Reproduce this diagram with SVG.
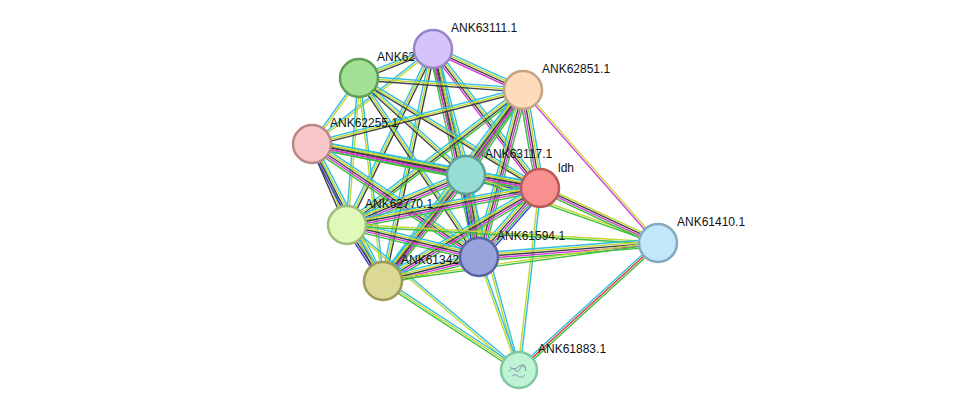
<svg xmlns="http://www.w3.org/2000/svg" width="975" height="416" viewBox="0 0 975 416">
<style>
line{stroke-width:1.4}
.c{stroke:#2fbfe0}.t{stroke:#c2d62f}.k{stroke:#404040}.m{stroke:#d63bd6}.g{stroke:#3cbf3c}.b{stroke:#3a3ae0}.r{stroke:#e03838}
circle{stroke-width:2.5}
text{font-family:"Liberation Sans",Arial,sans-serif;font-size:12px;fill:#111}
</style>
<rect width="975" height="416" fill="#fff"/>
<g id="edges">
<g transform="translate(359 78) rotate(-21.4)"><line x2="79.5" y1="-2" y2="-2" class="c"/><line x2="79.5" class="t"/><line x2="79.5" y1="2" y2="2" class="k"/></g>
<g transform="translate(433 49) rotate(24.5)"><line x2="98.9" y1="-3" y2="-3" class="c"/><line x2="98.9" y1="-1" y2="-1" class="t"/><line x2="98.9" y1="1" y2="1" class="k"/><line x2="98.9" y1="3" y2="3" class="m"/></g>
<g transform="translate(312 144) rotate(-38.1)"><line x2="153.8" y1="-1" y2="-1" class="c"/><line x2="153.8" y1="1" y2="1" class="t"/></g>
<g transform="translate(433 49) rotate(75.3)"><line x2="130.2" y1="-4" y2="-4" class="c"/><line x2="130.2" y1="-2" y2="-2" class="t"/><line x2="130.2" class="k"/><line x2="130.2" y1="2" y2="2" class="m"/><line x2="130.2" y1="4" y2="4" class="g"/></g>
<g transform="translate(433 49) rotate(52.4)"><line x2="175.4" y1="-3" y2="-3" class="c"/><line x2="175.4" y1="-1" y2="-1" class="t"/><line x2="175.4" y1="1" y2="1" class="k"/><line x2="175.4" y1="3" y2="3" class="m"/></g>
<g transform="translate(347 225) rotate(-63.9)"><line x2="195.9" y1="-2" y2="-2" class="c"/><line x2="195.9" class="t"/><line x2="195.9" y1="2" y2="2" class="k"/></g>
<g transform="translate(433 49) rotate(77.5)"><line x2="213" y1="-4" y2="-4" class="c"/><line x2="213" y1="-2" y2="-2" class="t"/><line x2="213" class="k"/><line x2="213" y1="2" y2="2" class="m"/><line x2="213" y1="4" y2="4" class="g"/></g>
<g transform="translate(383 281) rotate(-77.8)"><line x2="237.3" y1="-2" y2="-2" class="c"/><line x2="237.3" class="t"/><line x2="237.3" y1="2" y2="2" class="k"/></g>
<g transform="translate(359 78) rotate(4.2)"><line x2="164.4" y1="-2" y2="-2" class="c"/><line x2="164.4" class="t"/><line x2="164.4" y1="2" y2="2" class="k"/></g>
<g transform="translate(312 144) rotate(-54.5)"><line x2="81" y1="-1" y2="-1" class="c"/><line x2="81" y1="1" y2="1" class="t"/></g>
<g transform="translate(359 78) rotate(42.2)"><line x2="144.4" y1="-2" y2="-2" class="c"/><line x2="144.4" class="t"/><line x2="144.4" y1="2" y2="2" class="k"/></g>
<g transform="translate(359 78) rotate(31.3)"><line x2="211.8" y1="-2" y2="-2" class="c"/><line x2="211.8" class="t"/><line x2="211.8" y1="2" y2="2" class="k"/></g>
<g transform="translate(347 225) rotate(-85.3)"><line x2="147.5" y1="-1" y2="-1" class="c"/><line x2="147.5" y1="1" y2="1" class="t"/></g>
<g transform="translate(359 78) rotate(56.2)"><line x2="215.5" y1="-2" y2="-2" class="c"/><line x2="215.5" class="t"/><line x2="215.5" y1="2" y2="2" class="k"/></g>
<g transform="translate(359 78) rotate(83.3)"><line x2="204.4" y1="-1" y2="-1" class="c"/><line x2="204.4" y1="1" y2="1" class="t"/></g>
<g transform="translate(312 144) rotate(-14.4)"><line x2="217.8" y1="-2" y2="-2" class="c"/><line x2="217.8" class="t"/><line x2="217.8" y1="2" y2="2" class="k"/></g>
<g transform="translate(466 175) rotate(-56.2)"><line x2="102.3" y1="-4" y2="-4" class="c"/><line x2="102.3" y1="-2" y2="-2" class="t"/><line x2="102.3" class="k"/><line x2="102.3" y1="2" y2="2" class="m"/><line x2="102.3" y1="4" y2="4" class="g"/></g>
<g transform="translate(523 90) rotate(80.2)"><line x2="99.5" y1="-4" y2="-4" class="c"/><line x2="99.5" y1="-2" y2="-2" class="t"/><line x2="99.5" class="k"/><line x2="99.5" y1="2" y2="2" class="m"/><line x2="99.5" y1="4" y2="4" class="g"/></g>
<g transform="translate(347 225) rotate(-37.5)"><line x2="221.8" y1="-3" y2="-3" class="c"/><line x2="221.8" y1="-1" y2="-1" class="t"/><line x2="221.8" y1="1" y2="1" class="k"/><line x2="221.8" y1="3" y2="3" class="g"/></g>
<g transform="translate(479 257) rotate(-75.2)"><line x2="172.7" y1="-4" y2="-4" class="c"/><line x2="172.7" y1="-2" y2="-2" class="t"/><line x2="172.7" class="k"/><line x2="172.7" y1="2" y2="2" class="m"/><line x2="172.7" y1="4" y2="4" class="g"/></g>
<g transform="translate(383 281) rotate(-53.8)"><line x2="236.8" y1="-4" y2="-4" class="c"/><line x2="236.8" y1="-2" y2="-2" class="t"/><line x2="236.8" class="k"/><line x2="236.8" y1="2" y2="2" class="m"/><line x2="236.8" y1="4" y2="4" class="g"/></g>
<g transform="translate(523 90) rotate(48.6)"><line x2="204" y1="-1" y2="-1" class="t"/><line x2="204" y1="1" y2="1" class="m"/></g>
<g transform="translate(312 144) rotate(11.4)"><line x2="157.1" y1="-4" y2="-4" class="c"/><line x2="157.1" y1="-2" y2="-2" class="t"/><line x2="157.1" class="k"/><line x2="157.1" y1="2" y2="2" class="m"/><line x2="157.1" y1="4" y2="4" class="g"/></g>
<g transform="translate(312 144) rotate(10.9)"><line x2="232.2" y1="-4" y2="-4" class="c"/><line x2="232.2" y1="-2" y2="-2" class="t"/><line x2="232.2" class="k"/><line x2="232.2" y1="2" y2="2" class="m"/><line x2="232.2" y1="4" y2="4" class="g"/></g>
<g transform="translate(312 144) rotate(66.6)"><line x2="88.2" y1="-2" y2="-2" class="c"/><line x2="88.2" class="t"/><line x2="88.2" y1="2" y2="2" class="k"/></g>
<g transform="translate(312 144) rotate(34.1)"><line x2="201.6" y1="-4" y2="-4" class="c"/><line x2="201.6" y1="-2" y2="-2" class="t"/><line x2="201.6" class="k"/><line x2="201.6" y1="2" y2="2" class="m"/><line x2="201.6" y1="4" y2="4" class="g"/></g>
<g transform="translate(312 144) rotate(62.6)"><line x2="154.3" y1="-3" y2="-3" class="c"/><line x2="154.3" y1="-1" y2="-1" class="t"/><line x2="154.3" y1="1" y2="1" class="k"/><line x2="154.3" y1="3" y2="3" class="b"/></g>
<g transform="translate(466 175) rotate(10)"><line x2="75.1" y1="-5" y2="-5" class="c"/><line x2="75.1" y1="-3" y2="-3" class="t"/><line x2="75.1" y1="-1" y2="-1" class="k"/><line x2="75.1" y1="1" y2="1" class="m"/><line x2="75.1" y1="3" y2="3" class="g"/><line x2="75.1" y1="5" y2="5" class="b"/></g>
<g transform="translate(347 225) rotate(-22.8)"><line x2="129.1" y1="-4" y2="-4" class="c"/><line x2="129.1" y1="-2" y2="-2" class="t"/><line x2="129.1" class="k"/><line x2="129.1" y1="2" y2="2" class="m"/><line x2="129.1" y1="4" y2="4" class="g"/></g>
<g transform="translate(466 175) rotate(81)"><line x2="83" y1="-5" y2="-5" class="c"/><line x2="83" y1="-3" y2="-3" class="t"/><line x2="83" y1="-1" y2="-1" class="k"/><line x2="83" y1="1" y2="1" class="m"/><line x2="83" y1="3" y2="3" class="g"/><line x2="83" y1="5" y2="5" class="b"/></g>
<g transform="translate(383 281) rotate(-51.9)"><line x2="134.6" y1="-4" y2="-4" class="c"/><line x2="134.6" y1="-2" y2="-2" class="t"/><line x2="134.6" class="k"/><line x2="134.6" y1="2" y2="2" class="m"/><line x2="134.6" y1="4" y2="4" class="g"/></g>
<g transform="translate(466 175) rotate(19.5)"><line x2="203.7" y1="-1" y2="-1" class="t"/><line x2="203.7" y1="1" y2="1" class="g"/></g>
<g transform="translate(466 175) rotate(74.8)"><line x2="202.1" y1="-1" y2="-1" class="c"/><line x2="202.1" y1="1" y2="1" class="t"/></g>
<g transform="translate(347 225) rotate(-10.9)"><line x2="196.5" y1="-4" y2="-4" class="c"/><line x2="196.5" y1="-2" y2="-2" class="t"/><line x2="196.5" class="k"/><line x2="196.5" y1="2" y2="2" class="m"/><line x2="196.5" y1="4" y2="4" class="g"/></g>
<g transform="translate(479 257) rotate(-48.5)"><line x2="92.1" y1="-5" y2="-5" class="c"/><line x2="92.1" y1="-3" y2="-3" class="t"/><line x2="92.1" y1="-1" y2="-1" class="k"/><line x2="92.1" y1="1" y2="1" class="m"/><line x2="92.1" y1="3" y2="3" class="g"/><line x2="92.1" y1="5" y2="5" class="b"/></g>
<g transform="translate(383 281) rotate(-30.6)"><line x2="182.5" y1="-4" y2="-4" class="c"/><line x2="182.5" y1="-2" y2="-2" class="t"/><line x2="182.5" class="k"/><line x2="182.5" y1="2" y2="2" class="m"/><line x2="182.5" y1="4" y2="4" class="g"/></g>
<g transform="translate(540 188) rotate(25)"><line x2="130.2" y1="-3" y2="-3" class="t"/><line x2="130.2" y1="-1" y2="-1" class="k"/><line x2="130.2" y1="1" y2="1" class="m"/><line x2="130.2" y1="3" y2="3" class="g"/></g>
<g transform="translate(540 188) rotate(96.6)"><line x2="183.2" y1="-1" y2="-1" class="c"/><line x2="183.2" y1="1" y2="1" class="t"/></g>
<g transform="translate(347 225) rotate(13.6)"><line x2="135.8" y1="-4" y2="-4" class="c"/><line x2="135.8" y1="-2" y2="-2" class="t"/><line x2="135.8" class="k"/><line x2="135.8" y1="2" y2="2" class="m"/><line x2="135.8" y1="4" y2="4" class="g"/></g>
<g transform="translate(347 225) rotate(57.3)"><line x2="66.6" y1="-3" y2="-3" class="c"/><line x2="66.6" y1="-1" y2="-1" class="t"/><line x2="66.6" y1="1" y2="1" class="k"/><line x2="66.6" y1="3" y2="3" class="b"/></g>
<g transform="translate(347 225) rotate(3.3)"><line x2="311.5" y1="-1" y2="-1" class="t"/><line x2="311.5" y1="1" y2="1" class="g"/></g>
<g transform="translate(347 225) rotate(40.1)"><line x2="225" y1="-1" y2="-1" class="c"/><line x2="225" y1="1" y2="1" class="t"/></g>
<g transform="translate(383 281) rotate(-14)"><line x2="99" y1="-4" y2="-4" class="c"/><line x2="99" y1="-2" y2="-2" class="t"/><line x2="99" class="k"/><line x2="99" y1="2" y2="2" class="m"/><line x2="99" y1="4" y2="4" class="g"/></g>
<g transform="translate(479 257) rotate(-4.5)"><line x2="179.5" y1="-4" y2="-4" class="c"/><line x2="179.5" y1="-2" y2="-2" class="t"/><line x2="179.5" class="k"/><line x2="179.5" y1="2" y2="2" class="m"/><line x2="179.5" y1="4" y2="4" class="g"/></g>
<g transform="translate(479 257) rotate(70.5)"><line x2="119.9" y1="-1" y2="-1" class="c"/><line x2="119.9" y1="1" y2="1" class="t"/></g>
<g transform="translate(383 281) rotate(-7.9)"><line x2="277.6" y1="-1" y2="-1" class="t"/><line x2="277.6" y1="1" y2="1" class="g"/></g>
<g transform="translate(383 281) rotate(33.2)"><line x2="162.5" y1="-2" y2="-2" class="c"/><line x2="162.5" class="t"/><line x2="162.5" y1="2" y2="2" class="g"/></g>
<g transform="translate(519 370) rotate(-42.4)"><line x2="188.3" y1="-2" y2="-2" class="c"/><line x2="188.3" class="r"/><line x2="188.3" y1="2" y2="2" class="g"/></g>
</g>
<g id="n-ANK62"><text x="377" y="61">ANK62</text><circle cx="359" cy="78" r="19" fill="#a2e094" stroke="#5e9e55"/></g>
<g id="n-ANK62255.1"><text x="330" y="127">ANK62255.1</text><circle cx="312" cy="144" r="19" fill="#f7c6c6" stroke="#bb8888"/></g>
<g id="n-ANK62770.1"><text x="365" y="208">ANK62770.1</text><circle cx="347" cy="225" r="19" fill="#def9b8" stroke="#9fbc7d"/></g>
<g id="n-ANK61342"><text x="401" y="264">ANK61342</text><circle cx="383" cy="281" r="19" fill="#dcd896" stroke="#9d9a5a"/></g>
<g id="n-ANK63111.1"><text x="451" y="32">ANK63111.1</text><circle cx="433" cy="49" r="19" fill="#d4c4fb" stroke="#9a84c8"/></g>
<g id="n-ANK62851.1"><text x="542" y="73">ANK62851.1</text><circle cx="523" cy="90" r="19" fill="#fddcbc" stroke="#c4a283"/></g>
<g id="n-ANK63117.1"><text x="485" y="158">ANK63117.1</text><circle cx="466" cy="175" r="19" fill="#98ddd3" stroke="#5ea096"/></g>
<g id="n-ldh"><text x="558" y="172">ldh</text><circle cx="540" cy="188" r="19" fill="#f89090" stroke="#bb5858"/></g>
<g id="n-ANK61594.1"><text x="497" y="240">ANK61594.1</text><circle cx="479" cy="257" r="19" fill="#98a2dc" stroke="#5a64a0"/></g>
<g id="n-ANK61410.1"><text x="677" y="226">ANK61410.1</text><circle cx="658" cy="243" r="19" fill="#c2e6fa" stroke="#85aac0"/></g>
<g id="n-ANK61883.1"><text x="538" y="353">ANK61883.1</text><circle cx="519" cy="370" r="18" fill="#bff3d6" stroke="#80c8a0"/><path d="M509 372 q3 -6 6 -2 t6 -3 t5 4 M510 367 q4 4 8 0 t8 2 M512 376 q3 -3 6 0 t7 -1" fill="none" stroke="#8a9aa8" stroke-width="1"/></g>
</svg>
